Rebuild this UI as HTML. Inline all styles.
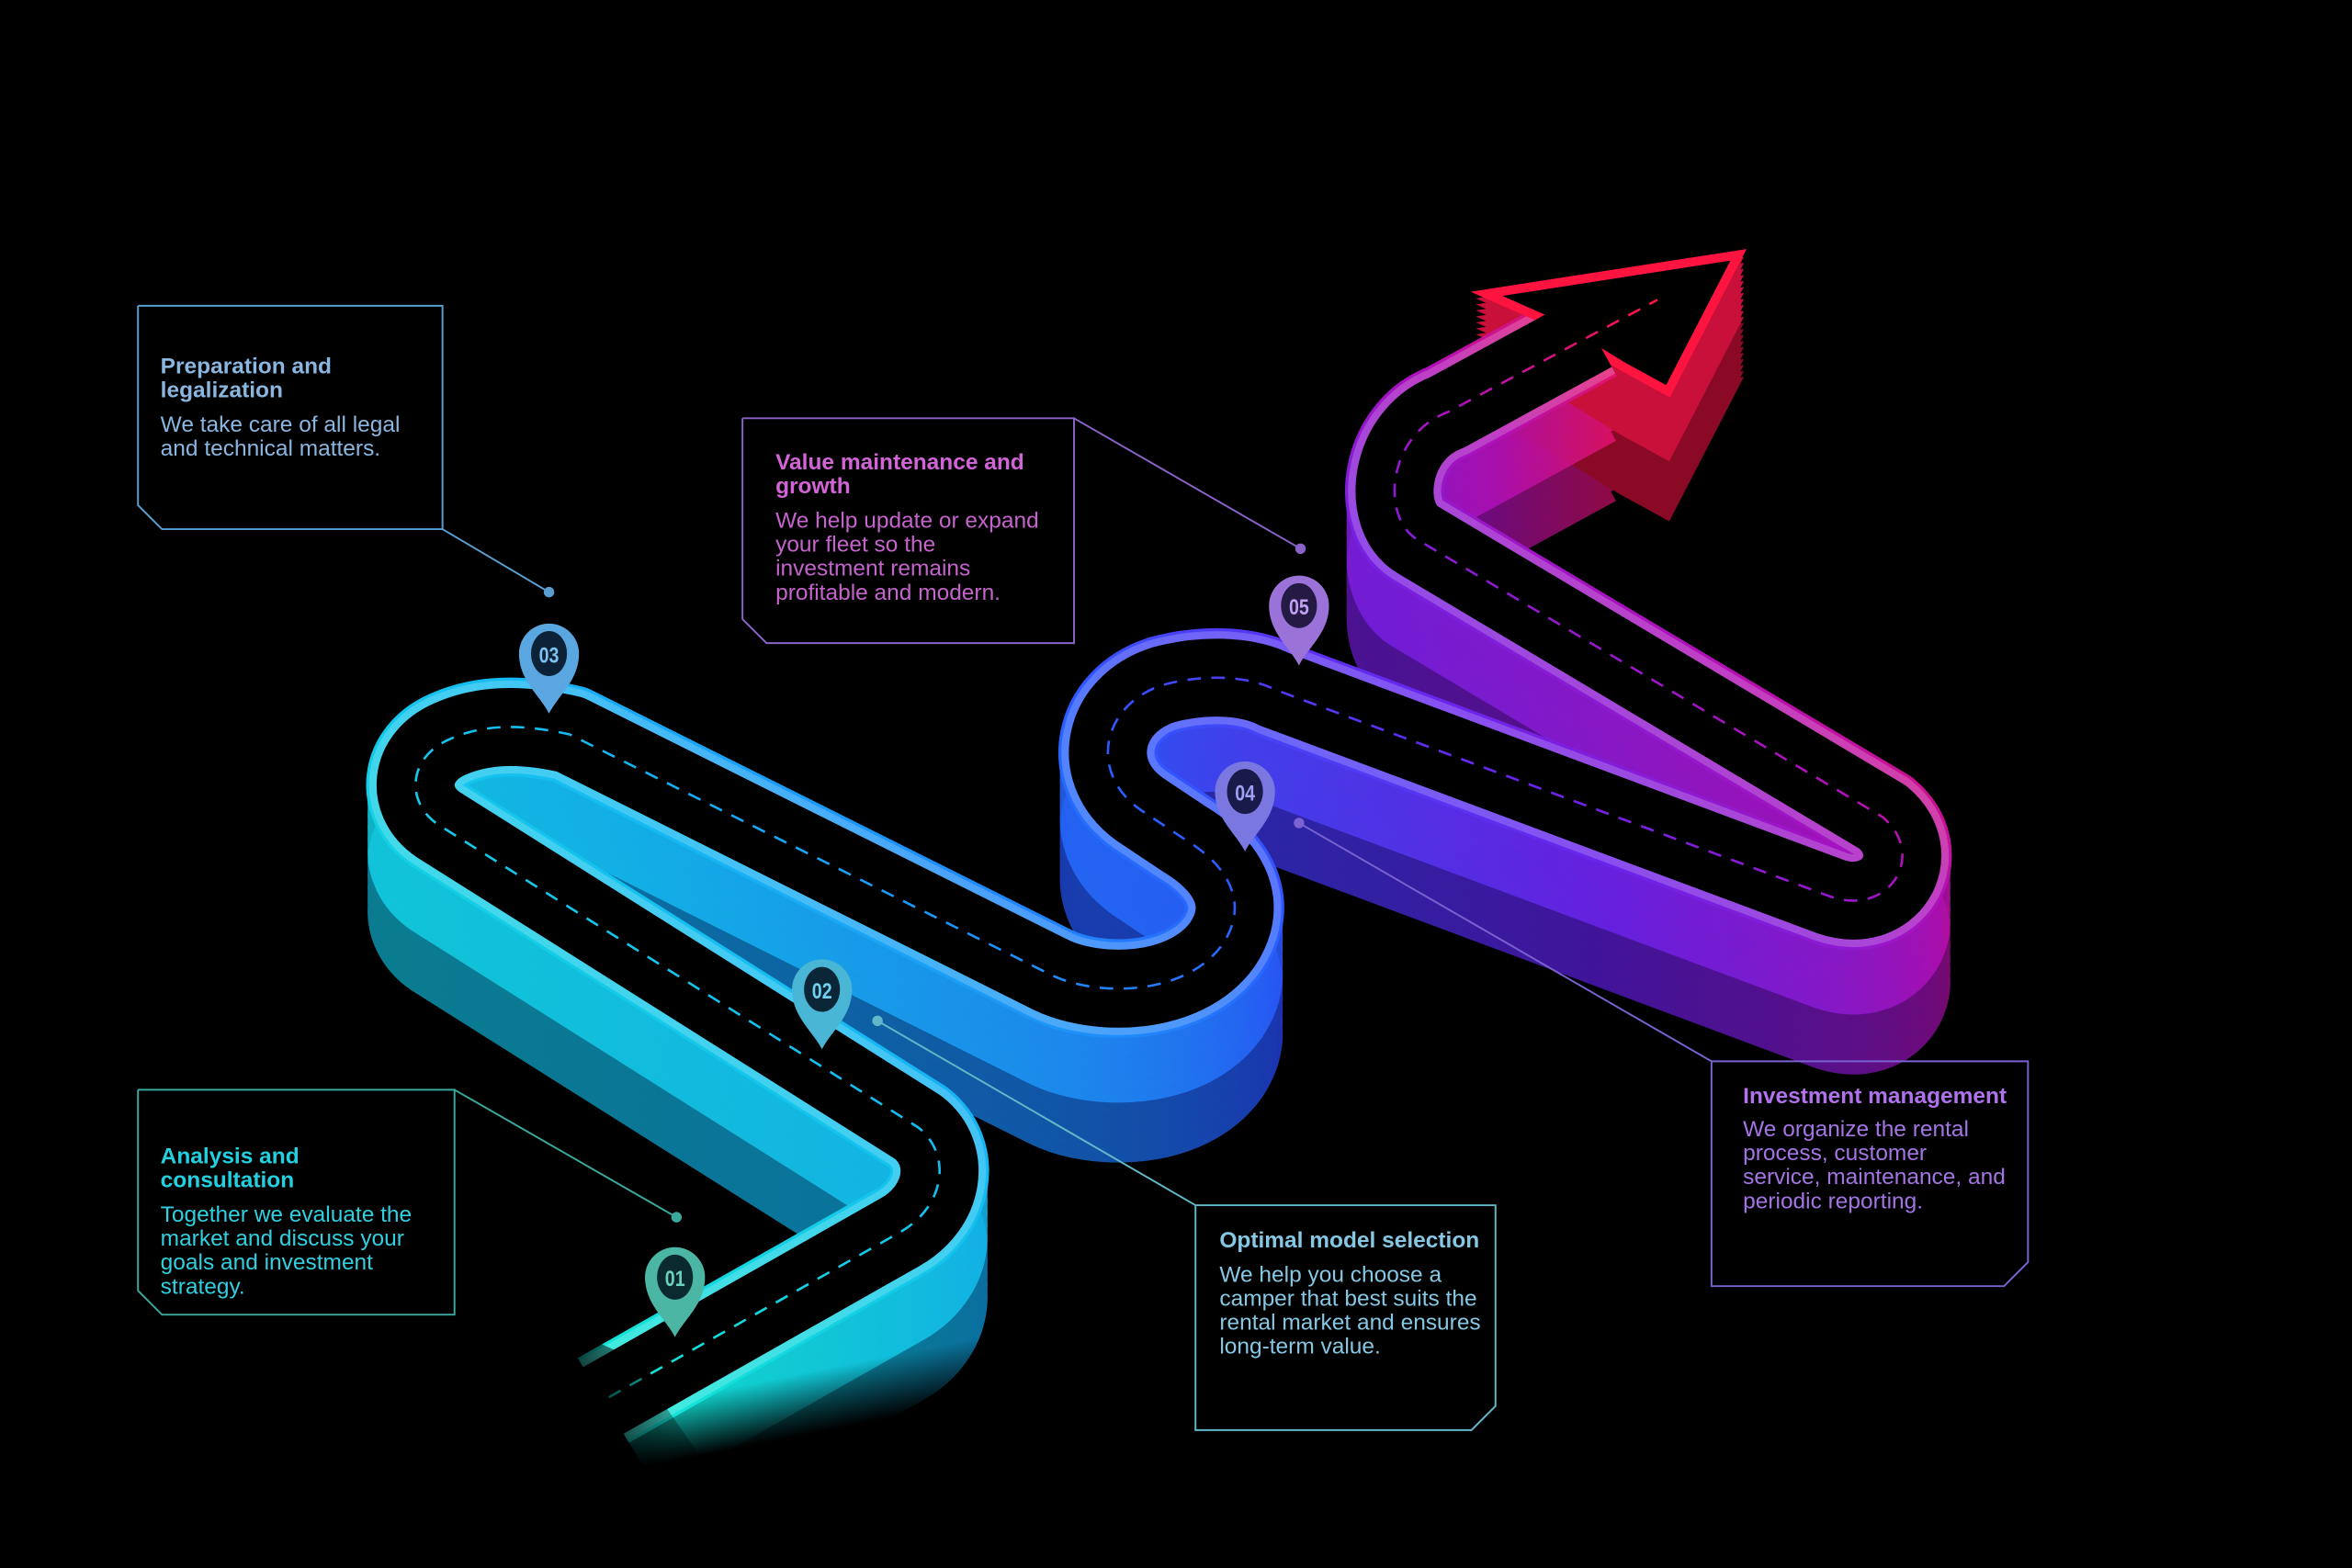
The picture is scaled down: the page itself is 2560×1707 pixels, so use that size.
<!DOCTYPE html>
<html><head><meta charset="utf-8"><style>
html,body{margin:0;padding:0;background:#000;}
svg{display:block;}
text{font-family:"Liberation Sans",Arial,sans-serif;}
</style></head><body>
<svg width="2560" height="1707" viewBox="0 0 1568 1046" preserveAspectRatio="none" xmlns="http://www.w3.org/2000/svg">
<defs>
<linearGradient id="g" gradientUnits="userSpaceOnUse" x1="400" y1="900" x2="1150" y2="180">
<stop offset="0" stop-color="#12e6d6"/>
<stop offset="0.25" stop-color="#14bcf2"/>
<stop offset="0.5" stop-color="#2a5cff"/>
<stop offset="0.68" stop-color="#6a24ec"/>
<stop offset="0.82" stop-color="#b010b8"/>
<stop offset="0.95" stop-color="#ff1440"/>
</linearGradient>
<linearGradient id="g2" gradientUnits="userSpaceOnUse" x1="400" y1="900" x2="1150" y2="180">
<stop offset="0" stop-color="#0a8a80"/>
<stop offset="0.25" stop-color="#0a6ea0"/>
<stop offset="0.5" stop-color="#1a34b0"/>
<stop offset="0.68" stop-color="#40149a"/>
<stop offset="0.82" stop-color="#700a78"/>
<stop offset="0.95" stop-color="#a00a28"/>
</linearGradient>
<linearGradient id="fade" gradientUnits="userSpaceOnUse" x1="380" y1="960" x2="470" y2="915">
<stop offset="0" stop-color="#000" stop-opacity="1"/>
<stop offset="1" stop-color="#000" stop-opacity="0"/>
</linearGradient>
<linearGradient id="fade2" gradientUnits="userSpaceOnUse" x1="540" y1="915" x2="548" y2="955">
<stop offset="0" stop-color="#000" stop-opacity="0"/>
<stop offset="1" stop-color="#000" stop-opacity="1"/>
</linearGradient>
<path id="road" fill="none" stroke-linecap="butt" stroke-linejoin="round" d="M 392,940 L 600,822 C 630,805 635,770 612,752 L 292,550 C 270,535 272,505 300,493 C 320,484 345,482 380,490 L 700,650 C 730,665 790,665 815,630 C 835,600 815,575 790,560 L 760,540 C 725,515 735,470 775,457 C 800,450 830,450 850,460 L 1220,598 C 1260,612 1285,570 1255,545 L 945,360 C 920,345 925,290 965,275 L 1062,222"/>
<path id="dash" fill="none" d="M 392,940 L 600,822 C 630,805 635,770 612,752 L 292,550 C 270,535 272,505 300,493 C 320,484 345,482 380,490 L 700,650 C 730,665 790,665 815,630 C 835,600 815,575 790,560 L 760,540 C 725,515 735,470 775,457 C 800,450 830,450 850,460 L 1220,598 C 1260,612 1285,570 1255,545 L 945,360 C 920,345 925,290 965,275 L 1105,200"/>
<polygon id="arrow" points="1159,170 991,196 1034,215 1081,244 1112,261"/>
</defs>

<!-- walls -->
<g stroke="url(#g2)" stroke-width="64">
<use href="#road" transform="translate(0,84)"/>
<use href="#road" transform="translate(0,76)"/>
<use href="#road" transform="translate(0,68)"/>
<use href="#road" transform="translate(0,60)"/>
<use href="#road" transform="translate(0,52)"/>
</g>
<g stroke="#8a0a26" stroke-width="4" fill="#8a0a26">
<use href="#arrow" transform="translate(0,84)"/>
<use href="#arrow" transform="translate(0,80)"/>
<use href="#arrow" transform="translate(0,76)"/>
<use href="#arrow" transform="translate(0,72)"/>
<use href="#arrow" transform="translate(0,68)"/>
<use href="#arrow" transform="translate(0,64)"/>
<use href="#arrow" transform="translate(0,60)"/>
<use href="#arrow" transform="translate(0,56)"/>
<use href="#arrow" transform="translate(0,52)"/>
<use href="#arrow" transform="translate(0,48)"/>
</g>
<g stroke="url(#g)" stroke-width="64" opacity="0.85">
<use href="#road" transform="translate(0,44)"/>
<use href="#road" transform="translate(0,36)"/>
<use href="#road" transform="translate(0,28)"/>
<use href="#road" transform="translate(0,20)"/>
<use href="#road" transform="translate(0,12)"/>
<use href="#road" transform="translate(0,6)"/>
</g>
<g stroke="#c8103a" stroke-width="4" fill="#c8103a">
<use href="#arrow" transform="translate(0,44)"/>
<use href="#arrow" transform="translate(0,40)"/>
<use href="#arrow" transform="translate(0,36)"/>
<use href="#arrow" transform="translate(0,32)"/>
<use href="#arrow" transform="translate(0,28)"/>
<use href="#arrow" transform="translate(0,24)"/>
<use href="#arrow" transform="translate(0,20)"/>
<use href="#arrow" transform="translate(0,16)"/>
<use href="#arrow" transform="translate(0,12)"/>
<use href="#arrow" transform="translate(0,8)"/>
<use href="#arrow" transform="translate(0,4)"/>
</g>
<!-- fade under segment A -->
<polygon points="400,930 680,880 700,1046 380,1046" fill="url(#fade2)"/>
<!-- top surface -->
<use href="#road" stroke="url(#g)" stroke-width="66"/>
<use href="#road" stroke="#ffffff" stroke-opacity="0.2" stroke-width="62"/>
<use href="#arrow" fill="#000" stroke="#ff1440" stroke-width="6" stroke-linejoin="miter"/>
<use href="#road" stroke="#000" stroke-width="52"/>
<use href="#dash" stroke="url(#g)" stroke-width="1.6" stroke-dasharray="9,7"/>

<!-- fade start of road -->
<polygon points="300,870 372,884 470,1046 300,1046" fill="#000"/>
<polygon points="372,884 420,905 520,1046 470,1046" fill="url(#fade)"/>

<!-- connectors -->
<g stroke-width="1.2" fill="none">
<polyline points="92,204 295,204 295,353 108,353 92,337 92,204" stroke="#5a9ed0"/>
<line x1="295" y1="353" x2="366" y2="395" stroke="#5a9ed0"/>
<polyline points="495,279 716,279 716,429 511,429 495,413 495,279" stroke="#8a62c8"/>
<line x1="716" y1="279" x2="867" y2="366" stroke="#8a62c8"/>
<polyline points="92,727 303,727 303,877 108,877 92,861 92,727" stroke="#3aa89c"/>
<line x1="303" y1="727" x2="451" y2="812" stroke="#3aa89c"/>
<polyline points="797,804 997,804 997,938 981,954 797,954 797,804" stroke="#62b8c8"/>
<line x1="797" y1="804" x2="585" y2="681" stroke="#62b8c8"/>
<polyline points="1141,708 1352,708 1352,842 1336,858 1141,858 1141,708" stroke="#7a62d0"/>
<line x1="1141" y1="708" x2="866" y2="549" stroke="#7a62d0"/>
</g>
<circle cx="366" cy="395" r="3.5" fill="#5a9ed0"/>
<circle cx="867" cy="366" r="3.5" fill="#8a62c8"/>
<circle cx="451" cy="812" r="3.5" fill="#3aa89c"/>
<circle cx="585" cy="681" r="3.5" fill="#62b8c8"/>
<circle cx="866" cy="549" r="3.5" fill="#7a62d0"/>

<!-- pins -->
<g font-weight="bold" font-size="15" text-anchor="middle">
<g transform="translate(450,852)"><path d="M0,40 C-6,28 -20,18 -20,0 A20,20 0 1 1 20,0 C20,18 6,28 0,40Z" fill="#4cb6a4"/><ellipse rx="12" ry="15" fill="#0b2a30"/><text y="6" fill="#6cd0c0" transform="scale(0.8,1)">01</text></g>
<g transform="translate(548,660)"><path d="M0,40 C-6,28 -20,18 -20,0 A20,20 0 1 1 20,0 C20,18 6,28 0,40Z" fill="#4ab6d6"/><ellipse rx="12" ry="15" fill="#0b2636"/><text y="6" fill="#70d0f0" transform="scale(0.8,1)">02</text></g>
<g transform="translate(366,436)"><path d="M0,40 C-6,28 -20,18 -20,0 A20,20 0 1 1 20,0 C20,18 6,28 0,40Z" fill="#5aa6e0"/><ellipse rx="12" ry="15" fill="#0c2238"/><text y="6" fill="#80c0f0" transform="scale(0.8,1)">03</text></g>
<g transform="translate(830,528)"><path d="M0,40 C-6,28 -20,18 -20,0 A20,20 0 1 1 20,0 C20,18 6,28 0,40Z" fill="#7a78e0"/><ellipse rx="12" ry="15" fill="#1a1a4a"/><text y="6" fill="#a0a0f0" transform="scale(0.8,1)">04</text></g>
<g transform="translate(866,404)"><path d="M0,40 C-6,28 -20,18 -20,0 A20,20 0 1 1 20,0 C20,18 6,28 0,40Z" fill="#9a72d8"/><ellipse rx="12" ry="15" fill="#241a44"/><text y="6" fill="#c0a0f0" transform="scale(0.8,1)">05</text></g>
</g>

<!-- texts -->
<g font-size="15">
<text x="107" y="249" fill="#8ab6e0" font-weight="bold">Preparation and</text>
<text x="107" y="265" fill="#8ab6e0" font-weight="bold">legalization</text>
<text x="107" y="288" fill="#8ab6e0">We take care of all legal</text>
<text x="107" y="304" fill="#8ab6e0">and technical matters.</text>

<text x="517" y="313" fill="#d264d8" font-weight="bold">Value maintenance and</text>
<text x="517" y="329" fill="#d264d8" font-weight="bold">growth</text>
<text x="517" y="352" fill="#c464cc">We help update or expand</text>
<text x="517" y="368" fill="#c464cc">your fleet so the</text>
<text x="517" y="384" fill="#c464cc">investment remains</text>
<text x="517" y="400" fill="#c464cc">profitable and modern.</text>

<text x="107" y="776" fill="#22d0e0" font-weight="bold">Analysis and</text>
<text x="107" y="792" fill="#22d0e0" font-weight="bold">consultation</text>
<text x="107" y="815" fill="#30d0e0">Together we evaluate the</text>
<text x="107" y="831" fill="#30d0e0">market and discuss your</text>
<text x="107" y="847" fill="#30d0e0">goals and investment</text>
<text x="107" y="863" fill="#30d0e0">strategy.</text>

<text x="813" y="832" fill="#86c8e4" font-weight="bold">Optimal model selection</text>
<text x="813" y="855" fill="#86c8e4">We help you choose a</text>
<text x="813" y="871" fill="#86c8e4">camper that best suits the</text>
<text x="813" y="887" fill="#86c8e4">rental market and ensures</text>
<text x="813" y="903" fill="#86c8e4">long-term value.</text>

<text x="1162" y="736" fill="#b072ec" font-weight="bold">Investment management</text>
<text x="1162" y="758" fill="#a474e4">We organize the rental</text>
<text x="1162" y="774" fill="#a474e4">process, customer</text>
<text x="1162" y="790" fill="#a474e4">service, maintenance, and</text>
<text x="1162" y="806" fill="#a474e4">periodic reporting.</text>
</g>
</svg>
</body></html>
